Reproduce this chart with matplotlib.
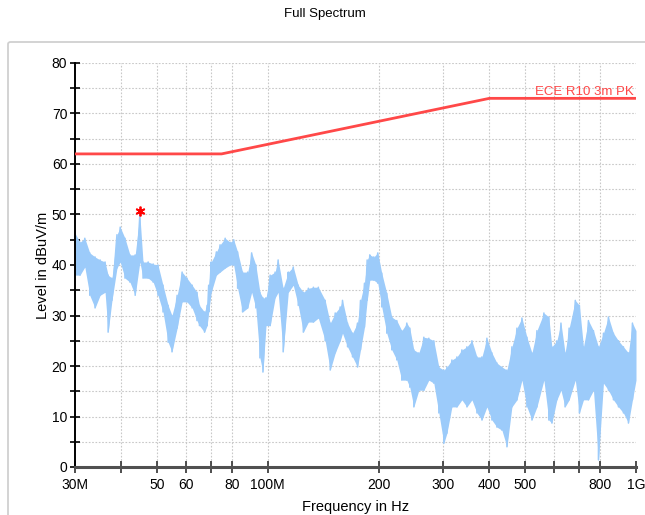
import matplotlib
matplotlib.use("Agg")
import matplotlib.pyplot as plt
import matplotlib.patches as mpatches
from matplotlib.ticker import FixedLocator, NullLocator, MultipleLocator
import numpy as np

# ---------------- data ----------------
freq_mhz = [30, 30.95, 31.9, 32.9, 34.0, 35.1, 36.2, 36.9, 37.8, 39.0, 39.8, 41.0, 42.3, 43.7,
            45.0, 45.9, 47.4, 48.9, 50.4, 52.0, 53.7, 55.0, 56.8, 58.6, 60.4, 62.4, 64.3, 65.3,
            67.4, 68.5, 69.2, 70.3, 72.6, 74.3, 76.7, 79.1, 80.9, 82.9, 85.5, 88.3, 90.5, 92.9,
            95.3, 97.1, 99.0, 101.6, 104.8, 106.8, 110.2, 113.8, 117.4, 121.1, 125.0, 129.0,
            133.1, 137.3, 143.3, 147.9, 152.6, 157.4, 159.7, 164.8, 170.0, 175.4, 178.7, 183.2,
            186.3, 189.4, 194.2, 199.1, 204.1, 210.6, 217.3, 224.2, 231.3, 238.7, 243.2, 249.4,
            257.3, 265.5, 273.9, 282.6, 291.6, 300.8, 306.7, 316.4, 326.5, 336.8, 347.5, 358.6,
            370.0, 381.7, 393.8, 406.3, 419.2, 432.5, 446.3, 460.4, 475.1, 490.2, 505.7, 521.8,
            538.3, 562.3, 579.8, 591.0, 609.8, 625.6, 641.8, 658.4, 684.3, 702.0, 720.1, 742.9,
            766.5, 790.8, 815.9, 841.8, 868.5, 896.1, 924.5, 953.8, 978, 1000]

level_hi = [46.3, 44.5, 45.3, 42.4, 41.6, 41.0, 40.6, 38.0, 37.4, 46.0, 47.5, 45.3, 42.0, 42.0,
            49.9, 40.6, 40.6, 40.2, 40.0, 36.0, 32.0, 30.0, 34.0, 38.6, 37.4, 36.0, 34.6, 32.0,
            30.7, 32.0, 36.0, 40.6, 42.6, 44.0, 45.3, 44.5, 45.0, 42.6, 38.6, 38.6, 42.4, 40.0,
            34.6, 33.5, 33.5, 38.0, 38.6, 41.0, 35.4, 38.6, 39.6, 36.0, 34.6, 35.4,
            35.6, 35.6, 33.0, 28.5, 30.5, 31.7, 33.0, 28.5, 26.5, 28.5, 33.0, 36.4,
            41.0, 42.0, 41.6, 42.4, 38.4, 34.4, 29.7, 29.0, 27.0, 28.5, 27.5, 23.2,
            22.6, 25.7, 25.5, 25.0, 19.8, 19.2, 19.8, 21.2, 21.8, 23.2, 23.8, 25.0,
            21.8, 21.8, 25.5, 22.6, 20.6, 19.8, 19.2, 23.8, 27.5, 29.5, 25.7, 22.6,
            27.0, 30.5, 29.7, 23.8, 25.0, 28.5, 22.6, 27.5, 33.0, 32.0, 23.8, 29.0,
            27.0, 23.8, 26.5, 29.7, 26.5, 25.0, 23.8, 22.6, 28.5, 27.0]

level_lo = [38.0, 38.0, 39.6, 34.0, 31.5, 34.0, 34.6, 26.7, 33.0, 39.4, 40.6, 37.4, 36.6, 34.0,
            40.6, 37.4, 37.4, 36.6, 34.0, 30.7, 24.7, 22.8, 27.5, 32.7, 32.7, 31.5, 29.0, 28.0,
            26.7, 28.0, 30.7, 34.6, 38.0, 38.6, 39.4, 40.0, 40.0, 35.4, 30.7, 31.5, 34.6, 31.5,
            21.6, 18.8, 28.0, 28.0, 33.5, 34.6, 22.8, 34.6, 36.0, 32.0, 26.7, 28.7,
            28.7, 29.5, 25.0, 19.2, 22.6, 25.0, 26.5, 23.8, 21.8, 19.8, 23.2, 27.7,
            33.0, 37.0, 37.0, 36.4, 31.7, 26.5, 23.2, 21.2, 17.2, 17.2, 15.8, 11.9,
            15.2, 15.2, 17.2, 16.6, 10.7, 4.7, 6.7, 11.9, 11.9, 13.3, 11.9, 13.3,
            10.7, 9.3, 11.9, 9.3, 7.9, 7.3, 4.0, 11.9, 13.3, 17.2, 11.9, 9.3,
            11.9, 17.2, 9.3, 8.7, 13.3, 15.2, 11.9, 13.3, 17.2, 10.7, 13.3, 13.3,
            15.2, 1.4, 16.6, 15.2, 13.3, 11.9, 10.7, 8.7, 13.3, 17.2]

limit_freq = [30, 75, 400, 1000]
limit_db = [62, 62, 73, 73]
limit_name = "ECE R10 3m PK"

peak_freq = [45.0]
peak_db = [50.6]

xtick_vals = [30, 40, 50, 60, 70, 80, 100, 200, 300, 400, 500, 600, 700, 800, 1000]
xtick_labels = ["30M", "", "50", "60", "", "80", "100M", "200", "300", "400", "500", "", "", "800", "1G"]
xgrid_vals = [40, 50, 60, 70, 80, 100, 200, 300, 400, 500, 600, 700, 800]

# ---------------- plot ----------------
FONT = ["Liberation Sans Narrow", "Liberation Sans", "DejaVu Sans"]
plt.rcParams["font.family"] = FONT

W, H = 645, 515
fig = plt.figure(figsize=(W / 100, H / 100), dpi=100)
fig.patch.set_facecolor("white")

# outer light frame
frame = mpatches.FancyBboxPatch((8 / W, -0.05), 1.2, 1 - 42 / H + 0.05,
                                boxstyle="round,pad=0,rounding_size=0.004",
                                transform=fig.transFigure, fill=False,
                                edgecolor="#d0d0d0", linewidth=1.3, zorder=0)
fig.patches.append(frame)

fig.text(0.503, 1 - 14 / H, "Full Spectrum", ha="center", va="center", fontsize=9.5)

ax = fig.add_axes([75 / W, 1 - 467 / H, (636 - 75) / W, (467 - 63) / H])
ax.set_facecolor("none")
ax.set_xscale("log")
ax.set_xlim(30, 1000)
ax.set_ylim(0, 80)

f = np.array(freq_mhz)
hi = np.array(level_hi)
lo = np.array(level_lo)
blue = "#9ccbfa"
ax.fill_between(f, lo, hi, color=blue, linewidth=0, zorder=2)
zz_f = np.repeat(f, 2)
zz_v = np.empty(2 * len(f))
zz_v[0::2] = hi
zz_v[1::2] = lo
ax.plot(zz_f, zz_v, color=blue, linewidth=1.1, zorder=2)

ax.plot(limit_freq, limit_db, color="#ff4848", linewidth=2, zorder=3)
ax.text(985, limit_db[-1] + 0.15, limit_name, color="#ff4848", ha="right", va="bottom", fontsize=9.5)

ax.plot(peak_freq, peak_db, marker=(6, 2, 0), color="red", markersize=7, markeredgewidth=1.3,
        linestyle="none", zorder=4)

# grid
for gx in xgrid_vals:
    ax.axvline(gx, color="#c8c8c8", linestyle=(0, (1.5, 1.5)), linewidth=0.8, zorder=1)
for gy in range(5, 81, 5):
    ax.axhline(gy, color="#c8c8c8", linestyle=(0, (1.5, 1.5)), linewidth=0.8, zorder=1)

# axes/ticks
ax.xaxis.set_major_locator(FixedLocator(xtick_vals))
ax.xaxis.set_minor_locator(NullLocator())
ax.set_xticklabels(xtick_labels)
ax.yaxis.set_major_locator(MultipleLocator(10))
ax.yaxis.set_minor_locator(MultipleLocator(5))

for s in ["top", "right"]:
    ax.spines[s].set_visible(False)
ax.spines["left"].set_color("black")
ax.spines["left"].set_linewidth(1.4)
ax.spines["bottom"].set_color("#505050")
ax.spines["bottom"].set_linewidth(2.2)

ax.tick_params(axis="y", which="both", direction="inout", length=7, width=1.2, color="black",
               labelsize=10, pad=2)
ax.tick_params(axis="x", which="major", direction="inout", length=8, width=1.2, color="#303030",
               labelsize=10, pad=4)

ax.set_xlabel("Frequency in Hz", fontsize=10.5, labelpad=6)
ax.set_ylabel("Level in dBuV/m", fontsize=10.5, labelpad=1)

fig.savefig("out.png", dpi=100, facecolor="white")
